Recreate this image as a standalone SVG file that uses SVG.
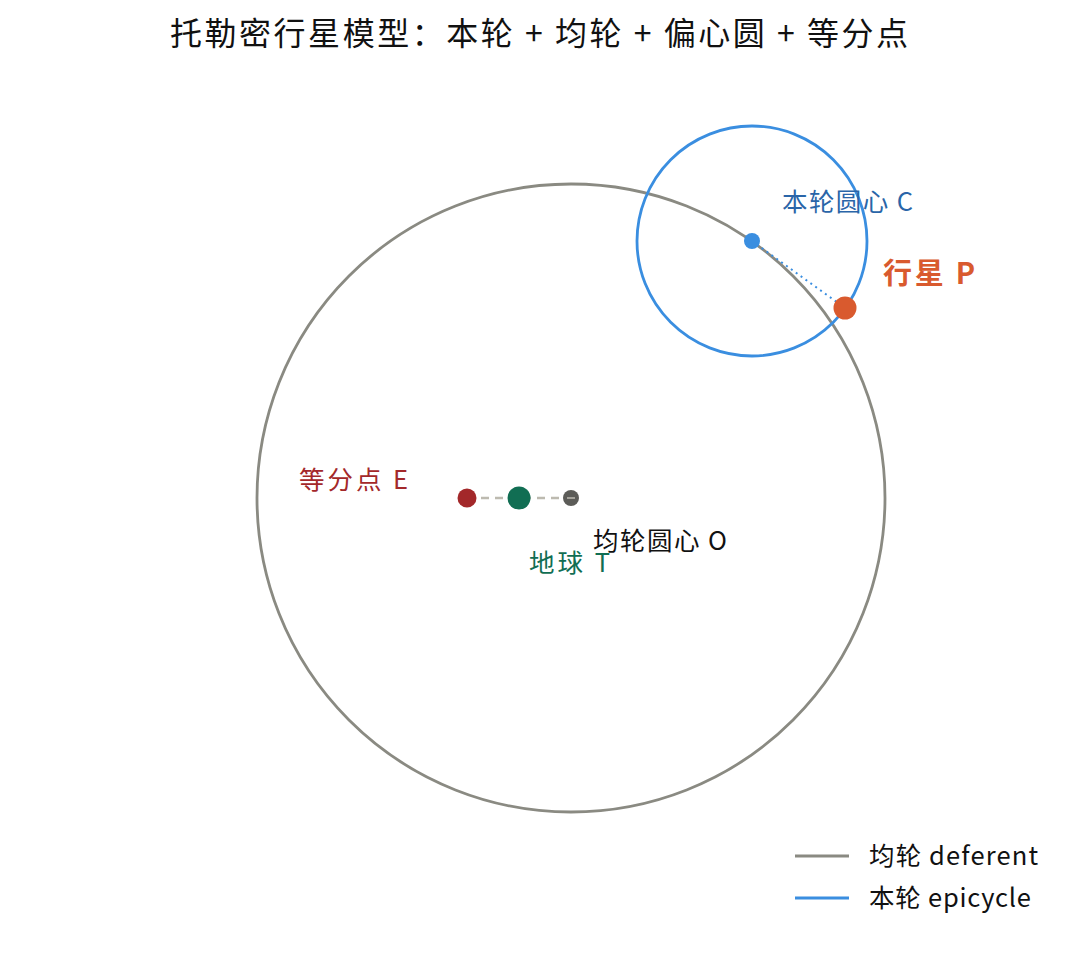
<svg xmlns="http://www.w3.org/2000/svg" width="1080" height="955" viewBox="0 0 1080 955">
<style>
text { font-family: "Noto Sans CJK SC", "Noto Sans", sans-serif; }
.orbit { fill: none; stroke-width: 2.8; }
.def { stroke: #8a8a82; }
.epi { stroke: #3a8ee0; }
.lbl { font-size: 25.5px; }
</style>
<rect width="1080" height="955" fill="#ffffff"/>
<text x="539" y="45" text-anchor="middle" font-size="32" fill="#111" textLength="738" lengthAdjust="spacing">托勒密行星模型：本轮 + 均轮 + 偏心圆 + 等分点</text>
<g id="deferent"><circle class="orbit def" cx="571" cy="498" r="314"/></g>
<g id="epicycle"><circle class="orbit epi" cx="752" cy="241" r="115"/></g>
<g id="connectors">
<line x1="467" y1="498" x2="571" y2="498" stroke="#bdbab0" stroke-width="2.5" stroke-dasharray="8,6"/>
<line x1="752" y1="241" x2="845" y2="308" stroke="#3a8ee0" stroke-width="2" stroke-dasharray="2,4"/>
</g>
<g id="E"><circle cx="467" cy="498" r="9.5" fill="#a3282a"/><text class="lbl" x="299" y="489" fill="#a3282a" textLength="109" lengthAdjust="spacing">等分点 E</text></g>
<g id="T"><circle cx="519" cy="498" r="11.5" fill="#116e53"/><text class="lbl" x="529" y="572" fill="#116e53" textLength="81" lengthAdjust="spacing">地球 T</text></g>
<g id="O"><circle cx="571" cy="498" r="8" fill="#5c5c58"/><line x1="567" y1="498" x2="575" y2="498" stroke="#bdbab0" stroke-width="1.5"/><text class="lbl" x="593" y="550" fill="#111" textLength="134" lengthAdjust="spacing">均轮圆心 O</text></g>
<g id="C"><circle cx="752" cy="241" r="8" fill="#3a8ee0"/><text class="lbl" x="782" y="211" fill="#2a65a8" textLength="131" lengthAdjust="spacing">本轮圆心 C</text></g>
<g id="P"><circle cx="845" cy="308" r="11.5" fill="#d95a2e"/><text x="883" y="284" font-size="29" font-weight="bold" fill="#d95a2e" textLength="92" lengthAdjust="spacing">行星 P</text></g>
<g id="legend">
<line x1="795" y1="856" x2="849" y2="856" stroke="#8a8a82" stroke-width="2.8"/>
<text class="lbl" x="869" y="865" fill="#111" textLength="169" lengthAdjust="spacing">均轮 deferent</text>
<line x1="795" y1="898" x2="849" y2="898" stroke="#3a8ee0" stroke-width="2.8"/>
<text class="lbl" x="869" y="907" fill="#111" textLength="162" lengthAdjust="spacing">本轮 epicycle</text>
</g>
</svg>
